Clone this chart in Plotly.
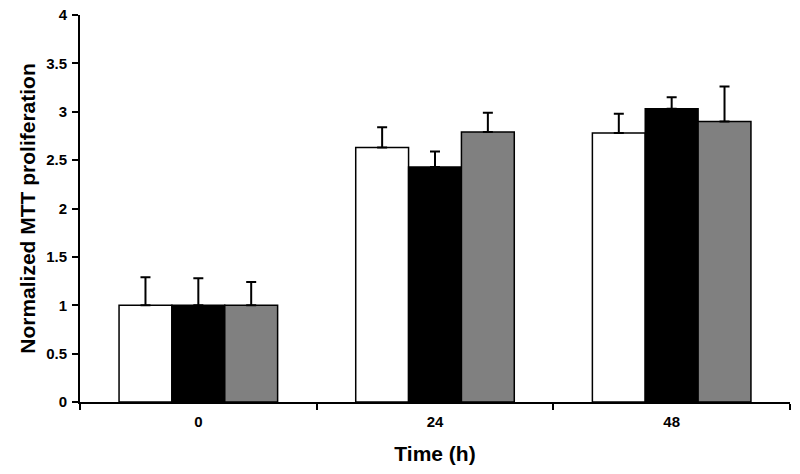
import plotly.graph_objects as go

categories = ["0", "24", "48"]
series_names = ["Group 1", "Group 2", "Group 3"]
values_white = [1.00, 2.63, 2.78]
values_black = [1.00, 2.43, 3.03]
values_gray = [1.00, 2.79, 2.90]
err_white = [0.29, 0.21, 0.20]
err_black = [0.28, 0.16, 0.12]
err_gray = [0.24, 0.20, 0.36]
y_ticks = [0, 0.5, 1, 1.5, 2, 2.5, 3, 3.5, 4]
y_tick_labels = ["0", "0.5", "1", "1.5", "2", "2.5", "3", "3.5", "4"]

colors = ["#ffffff", "#000000", "#808080"]
vals = [values_white, values_black, values_gray]
errs = [err_white, err_black, err_gray]

fig = go.Figure()
for name, v, e, c in zip(series_names, vals, errs, colors):
    fig.add_trace(go.Bar(
        x=categories, y=v, name=name,
        marker=dict(color=c, line=dict(color="black", width=1.5)),
        error_y=dict(type="data", symmetric=False, array=e,
                     arrayminus=[0] * len(e), color="black",
                     thickness=2, width=5),
    ))

font_family = "Liberation Sans, Arial, sans-serif"
fig.update_layout(
    width=800, height=474,
    margin=dict(l=80, r=10, t=15, b=72),
    barmode="group", bargap=0.33, bargroupgap=0,
    plot_bgcolor="white", paper_bgcolor="white",
    showlegend=False,
    font=dict(family=font_family, color="black"),
    xaxis=dict(
        type="category", automargin=False,
        showline=True, linecolor="black", linewidth=2,
        ticks="outside", tickson="boundaries", ticklen=6,
        tickwidth=2, tickcolor="black",
        tickfont=dict(size=15, weight="bold"),
        ticklabelstandoff=5,
        title=dict(text="Time (h)", font=dict(size=21, weight="bold"),
                   standoff=17),
        showgrid=False, zeroline=False,
    ),
    yaxis=dict(
        range=[0, 4], automargin=False,
        tickvals=y_ticks, ticktext=y_tick_labels,
        showline=True, linecolor="black", linewidth=2,
        ticks="outside", ticklen=6, tickwidth=2, tickcolor="black",
        tickfont=dict(size=15, weight="bold"),
        ticklabelstandoff=2,
        title=dict(text="Normalized MTT proliferation",
                   font=dict(size=21, weight="bold"), standoff=5),
        showgrid=False, zeroline=False,
    ),
)

fig.write_html(
    "out.html",
    config={"displayModeBar": False},
    post_script="document.body.style.margin='0';document.body.style.overflow='hidden';",
)
